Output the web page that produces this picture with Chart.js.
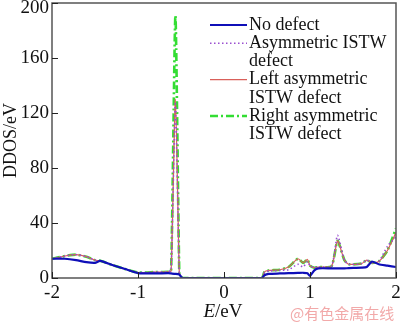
<!DOCTYPE html>
<html>
  <head>
    <style>
      html, body{ margin: 0; padding: 0; background-color: #ffffff; }
      .container{ position: relative; width: 400px; height: 322px; }
    </style>
    <script src="https://cdn.jsdelivr.net/npm/chart.js"></script>
  </head>
  <body>
    <div class="container">
      <canvas id="myChart" width="400" height="322"></canvas>
    </div>

    <script>
      // Data
      const energy = [-2, -1.85, -1.72, -1.6, -1.5, -1.44, -1.3, -1.15, -1.0, -0.8, -0.65, -0.615, -0.565, -0.52, -0.5, -0.48,
                      0.44, 0.47, 0.52, 0.65, 0.75, 0.86, 0.92, 0.97, 1.0, 1.05, 1.1, 1.25, 1.32, 1.4, 1.45, 1.6, 1.66, 1.72, 1.8, 1.9, 2.0];

      const noDefect = [14, 14, 13, 11.5, 11, 12.5, 9.5, 6.5, 3.6, 3.3, 3.5, 3.3, 3, 2.5, 1, 0,
                        0, 2, 3, 3.3, 3.5, 3.7, 3.8, 3.5, 1.5, 5.5, 7, 7, 7, 7, 7.2, 7.5, 8, 12, 10, 9, 8];
      const asymDefect = [14, 16, 17, 15.5, 13, 12.5, 9.5, 6.5, 4, 4.3, 4.5, 6, 128, 4, 1, 0,
                          0, 4, 5, 5.5, 6, 10, 8, 12, 9, 7.5, 8, 8.5, 31, 13, 10, 10.5, 13, 11, 12, 23, 30];
      const leftDefect = [14, 16, 17, 15.5, 13, 12.5, 9.5, 6.5, 4, 4.3, 4.5, 5, 130, 4, 1, 0,
                          0, 4.5, 5.5, 6, 8, 14, 11, 13.5, 9, 7.5, 8, 8.5, 27, 13, 10, 10.5, 13, 11, 12, 20, 33];
      const rightDefect = [14, 16, 17, 15.5, 13, 12.5, 9.5, 6.5, 4, 4.3, 4.5, 5, 191, 4, 1, 0,
                           0, 4.5, 5.5, 6, 8, 14, 11, 13.5, 9, 7.5, 8, 8.5, 27, 13, 10, 10.5, 13, 11, 12, 20, 36];

      const xTicks = [-2, -1, 0, 1, 2];
      const yTicks = [0, 40, 80, 120, 160, 200];
      const legendLines = [['No defect'], ['Asymmetric ISTW', 'defect'], ['Left asymmetric', 'ISTW defect'], ['Right asymmetric', 'ISTW defect']];

      const serif = '"Liberation Serif", "Times New Roman", serif';

      function pts(ys) {
        return energy.map((e, i) => ({ x: e, y: ys[i] }));
      }

      // frame, inward ticks, top y label, legend and x title
      const extras = {
        id: 'extras',
        afterDatasetsDraw(chart) {
          const { ctx, chartArea: a, scales } = chart;
          ctx.save();
          ctx.strokeStyle = '#555555';
          ctx.lineWidth = 1.5;
          ctx.strokeRect(a.left, a.top, a.right - a.left, a.bottom - a.top);
          ctx.strokeStyle = '#222222';
          ctx.lineWidth = 1;
          ctx.beginPath();
          xTicks.forEach(v => {
            const px = Math.round(scales.x.getPixelForValue(v)) + 0.5;
            ctx.moveTo(px, a.bottom); ctx.lineTo(px, a.bottom - 6);
          });
          yTicks.forEach(v => {
            const py = Math.round(scales.y.getPixelForValue(v)) + 0.5;
            ctx.moveTo(a.left, py); ctx.lineTo(a.left + 6, py);
          });
          ctx.stroke();

          // top y label sits just under the frame
          ctx.fillStyle = '#111111';
          ctx.font = '19px ' + serif;
          ctx.textAlign = 'right';
          ctx.textBaseline = 'middle';
          const top = yTicks[yTicks.length - 1];
          ctx.fillText(String(top), a.left - 3, Math.max(scales.y.getPixelForValue(top), 8));
          ctx.textAlign = 'left';

          // legend
          ctx.font = '18px ' + serif;
          let y = 25;
          chart.data.datasets.forEach((ds, i) => {
            ctx.beginPath();
            ctx.strokeStyle = ds.borderColor;
            ctx.lineWidth = ds.borderWidth;
            ctx.setLineDash(ds.borderDash || []);
            ctx.moveTo(210, y); ctx.lineTo(247, y);
            ctx.stroke();
            ctx.setLineDash([]);
            legendLines[i].forEach(t => {
              ctx.fillText(t, 249, y);
              y += 18.2;
            });
          });

          // x title
          ctx.font = 'italic 19px ' + serif;
          const w1 = ctx.measureText('E').width;
          ctx.font = '19px ' + serif;
          const w2 = ctx.measureText('/eV').width;
          const x0 = 223 - (w1 + w2) / 2;
          ctx.font = 'italic 19px ' + serif;
          ctx.fillText('E', x0, 312);
          ctx.font = '19px ' + serif;
          ctx.fillText('/eV', x0 + w1, 312);

          // watermark
          ctx.fillStyle = '#f2a9a9';
          ctx.font = '15px "Noto Sans CJK SC", sans-serif';
          ctx.fillText('@有色金属在线', 290, 313);
          ctx.restore();
        }
      };

      const ctx = document.getElementById('myChart').getContext('2d');
      const myChart = new Chart(ctx, {
        type: 'line',
        data: {
          datasets: [
            {
              label: 'No defect',
              data: pts(noDefect),
              borderColor: '#0f0fb8',
              borderWidth: 2.2,
              order: 0
            },
            {
              label: 'Asymmetric ISTW defect',
              data: pts(asymDefect),
              borderColor: '#9a4fd0',
              borderWidth: 1.6,
              borderDash: [1.5, 2.5],
              order: 1
            },
            {
              label: 'Left asymmetric ISTW defect',
              data: pts(leftDefect),
              borderColor: '#d9605a',
              borderWidth: 1.2,
              order: 2
            },
            {
              label: 'Right asymmetric ISTW defect',
              data: pts(rightDefect),
              borderColor: '#33dd33',
              borderWidth: 2.6,
              borderDash: [8, 3, 2, 3],
              order: 3
            }
          ]
        },
        options: {
          responsive: false,
          animation: false,
          elements: { point: { radius: 0 }, line: { tension: 0.2 } },
          layout: { padding: { top: 3, right: 4, left: 0, bottom: 0 } },
          scales: {
            x: {
              type: 'linear',
              min: -2,
              max: 2,
              afterBuildTicks: s => { s.ticks = xTicks.map(v => ({ value: v })); },
              afterFit: s => { s.height = 44; s.paddingLeft = 0; s.paddingRight = 0; },
              grid: { display: false, drawTicks: false },
              border: { display: false },
              ticks: { color: '#111111', padding: 4, maxRotation: 0, font: { family: serif, size: 19 } }
            },
            y: {
              min: 0,
              max: 200,
              afterBuildTicks: s => { s.ticks = yTicks.map(v => ({ value: v })); },
              afterFit: s => { s.width = 52; s.paddingTop = 0; s.paddingBottom = 0; },
              grid: { display: false, drawTicks: false },
              border: { display: false },
              title: { display: true, text: 'DDOS/eV', color: '#111111', padding: 0, font: { family: serif, size: 18 } },
              ticks: {
                color: '#111111',
                padding: 3,
                font: { family: serif, size: 19 },
                callback: v => (v === yTicks[yTicks.length - 1] ? '' : v)
              }
            }
          },
          plugins: {
            legend: { display: false },
            tooltip: { enabled: false }
          }
        },
        plugins: [extras]
      });
    </script>
  </body>
</html>
